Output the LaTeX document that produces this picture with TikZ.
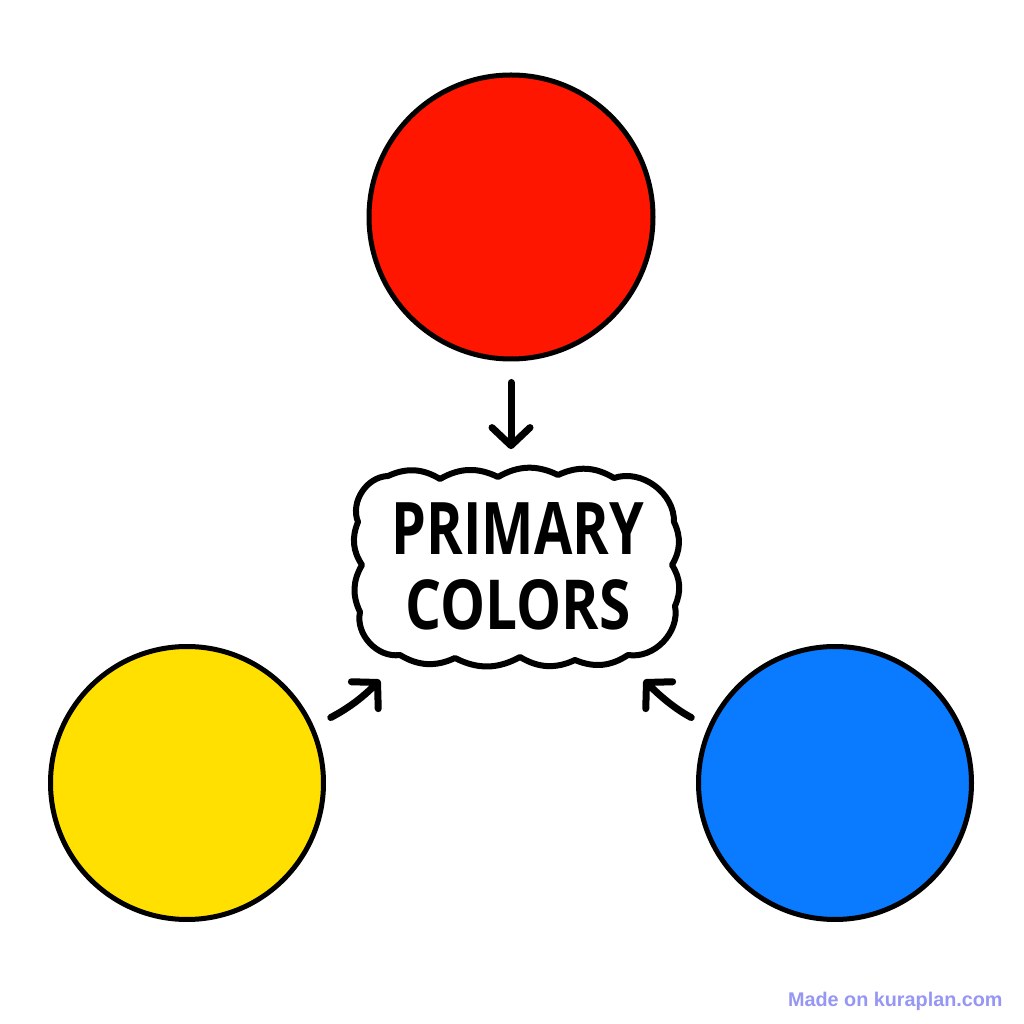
\documentclass[tikz,border=0pt]{standalone}
\usepackage{fontspec}
\setmainfont{Fira Sans}
\newfontfamily\cloudfont{Open Sans}
\newfontfamily\wmfont{Liberation Sans}
\usetikzlibrary{arrows.meta}
\definecolor{cred}{RGB}{255,22,0}
\definecolor{cyellow}{RGB}{255,224,0}
\definecolor{cblue}{RGB}{10,122,255}
\definecolor{wmark}{RGB}{150,150,245}
\tikzset{
  disc/.style={circle, draw=black, line width=2.5pt, inner sep=0pt},
  arr/.style={line width=3.5pt, line cap=round, -{Straight Barb[length=9pt, width=19pt, round]}},
  cloudline/.style={line width=3pt, line join=round, draw=black, fill=white},
}
\begin{document}
\begin{tikzpicture}[x=0.5pt, y=0.5pt]
\useasboundingbox (0,0) rectangle (1024,1024);
\fill[white] (0,0) rectangle (1024,1024);

\node[disc, fill=cred, minimum size=142pt] (red) at (511,807) {};
\node[disc, fill=cyellow, minimum size=136.5pt] (yellow) at (187,241) {};
\node[disc, fill=cblue, minimum size=136.5pt] (blue) at (835,241) {};

% cloud outline
\draw[cloudline] (388,548) to[bend left=28] (440,545) to[bend left=28] (498,547)
  to[bend left=28] (558,549) to[bend left=28] (614,546) to[bend left=55] (674,502)
  to[bend left=28] (672,459) to[bend left=28] (675,418) to[bend left=55] (628,369)
  to[bend left=28] (575,364) to[bend left=28] (520,367) to[bend left=28] (455,366)
  to[bend left=28] (400,369) to[bend left=55] (360,412) to[bend left=28] (362,459)
  to[bend left=28] (358,502) to[bend left=55] cycle;

\node[inner sep=0pt, minimum width=162.5pt, minimum height=100pt, align=center,
      font=\fontsize{10pt}{37.5pt}\selectfont\cloudfont\bfseries] (cloud) at (518,457.5)
  {\resizebox{126pt}{26pt}{PRIMARY}\\\resizebox{112.5pt}{25pt}{COLORS}};

\coordinate (ytip) at (380,344);
\coordinate (btip) at (644,344);

\draw[arr, shorten <=10.5pt, shorten >=8.5pt] (red.south) -- (red.south |- cloud.north);
\draw[arr, shorten <=9.5pt] (yellow.24) to[out=28, in=225] (ytip);
\draw[arr, shorten <=9.5pt] (blue.156) to[out=152, in=-45] (btip);

\node[anchor=base east, font=\wmfont\bfseries\fontsize{9.9pt}{11pt}\selectfont, text=wmark, inner sep=0pt] (wm) at (1003,18) {Made on kuraplan.com};
\end{tikzpicture}
\end{document}
